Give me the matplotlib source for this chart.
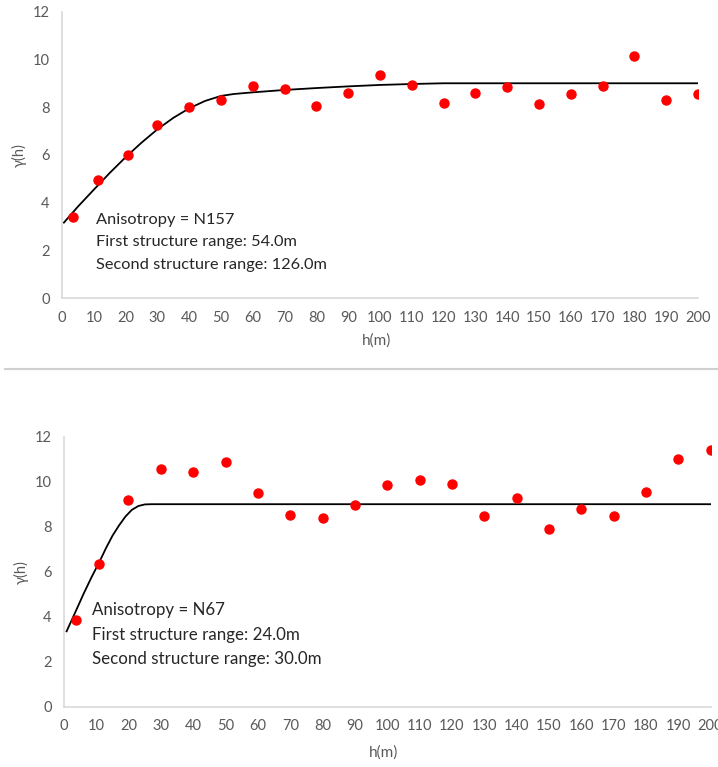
import numpy as np
import matplotlib
matplotlib.use('Agg')
import matplotlib.pyplot as plt
from matplotlib.lines import Line2D

plt.rcParams['font.family'] = ['Lato', 'DejaVu Sans']

# эмпирическая вариограмма, направление N157
lag_top = [3.5, 11.4, 20.9, 30, 40, 50, 60, 70, 80, 90, 100, 110, 120, 130,
           140, 150, 160, 170, 180, 190, 200]
gam_top = [3.39, 4.96, 6.01, 7.25, 8.0, 8.28, 8.88, 8.74, 8.04, 8.58, 9.33,
           8.94, 8.19, 8.58, 8.85, 8.15, 8.54, 8.89, 10.14, 8.29, 8.54]
# модель
model_h_top = [0.6, 5, 10, 15, 20, 25, 30, 35, 40, 45, 50, 54, 60, 70, 80, 90,
               100, 110, 120, 126, 200]
model_g_top = [3.16, 3.83, 4.54, 5.24, 5.9, 6.51, 7.07, 7.55, 7.95, 8.26, 8.47,
               8.55, 8.62, 8.72, 8.8, 8.87, 8.93, 8.97, 9.0, 9.0, 9.0]
text_top = ['Anisotropy = N157', 'First structure range: 54.0m',
            'Second structure range: 126.0m']

# направление N67
lag_bot = [3.7, 10.9, 19.7, 30, 40, 50, 60, 70, 80, 90, 100, 110, 120, 130,
           140, 150, 160, 170, 180, 190, 200]
gam_bot = [3.85, 6.36, 9.17, 10.55, 10.44, 10.86, 9.48, 8.52, 8.4, 8.95, 9.87,
           10.09, 9.9, 8.48, 9.29, 7.9, 8.79, 8.48, 9.56, 11.02, 11.41]
model_h_bot = [0.8, 3.5, 6, 8.5, 11, 13, 15, 17, 19, 21, 23, 25, 27, 200]
model_g_bot = [3.35, 4.2, 5.0, 5.75, 6.45, 7.05, 7.6, 8.05, 8.45, 8.75, 8.92,
               8.99, 9.0, 9.0]
text_bot = ['Anisotropy = N67', 'First structure range: 24.0m',
            'Second structure range: 30.0m']

W, H = 718, 767
fig = plt.figure(figsize=(W / 100, H / 100), dpi=100)


def panel(rect, lag, gam, mh, mg, lines, txt_xy, dy, xlab_y, fs):
    ax = fig.add_axes(rect)
    ax.plot(mh, mg, color='black', lw=1.3, zorder=2)
    ax.plot(lag, gam, 'o', color='#ff0000', ms=6.5, mec='#ff0000', zorder=3)
    ax.set_xlim(0, 200)
    ax.set_ylim(0, 12)
    ax.set_xticks(np.arange(0, 201, 10))
    ax.set_yticks(np.arange(0, 13, 2))
    for s in ['top', 'right']:
        ax.spines[s].set_visible(False)
    for s in ['left', 'bottom']:
        ax.spines[s].set_color('#d9d9d9')
        ax.spines[s].set_linewidth(1.2)
    ax.tick_params(length=0, labelsize=10.5, labelcolor='#595959', pad=9)
    ax.set_ylabel('γ(h)', fontsize=10.5, color='#595959', labelpad=4)
    fig.text(ax.get_position().x0 + (ax.get_position().width) / 2 - 0.005,
             1 - xlab_y / H, 'h(m)', ha='center', va='center',
             fontsize=11, color='#595959')
    for i, t in enumerate(lines):
        fig.text(txt_xy[0] / W, 1 - (txt_xy[1] + i * dy) / H, t,
                 ha='left', va='center', fontsize=fs, color='#262626')
    return ax


panel([62 / W, 1 - 298 / H, 636 / W, 286.3 / H], lag_top, gam_top,
      model_h_top, model_g_top, text_top, (95.5, 220), 22.3, 341, 11.8)
panel([64 / W, 1 - 706.7 / H, 646.5 / W, 270 / H], lag_bot, gam_bot,
      model_h_bot, model_g_bot, text_bot, (92, 610.5), 24.3, 753, 12.2)

# разделитель между графиками
fig.add_artist(Line2D([5 / W, 1], [1 - 369 / H, 1 - 369 / H],
                      color='#d0d0d0', lw=1.5))

fig.savefig('out.png', dpi=100)
